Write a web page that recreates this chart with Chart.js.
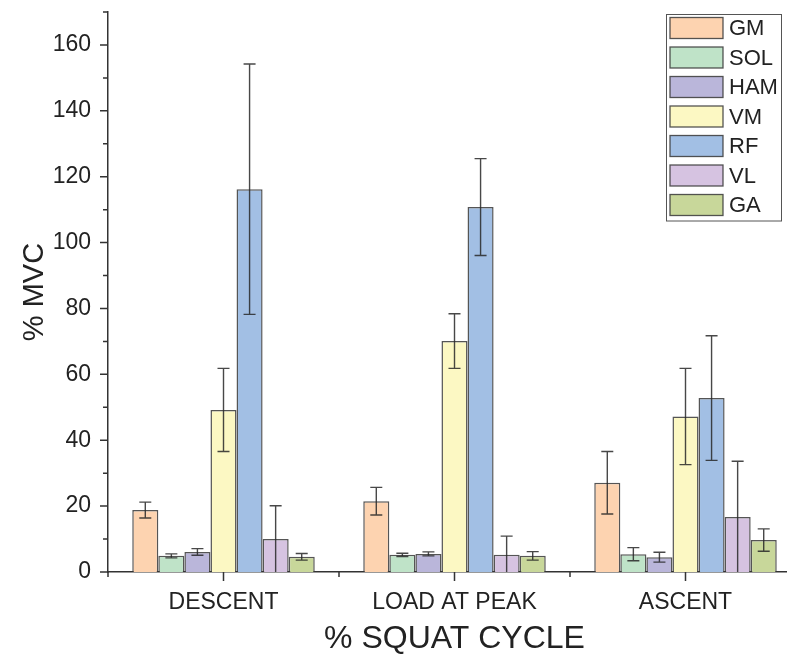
<!DOCTYPE html>
<html>
<head>
<meta charset="utf-8">
<script src="https://cdn.jsdelivr.net/npm/chart.js@4.4.1/dist/chart.umd.min.js"></script>
<style>
  html, body { margin: 0; padding: 0; background: #fff; overflow: hidden; }
  canvas { display: block; }
</style>
</head>
<body>
<canvas id="chart" width="805" height="658"></canvas>
<script>
// phases of the squat cycle
const phases = ['DESCENT', 'LOAD AT PEAK', 'ASCENT'];
const muscles = ['GM', 'SOL', 'HAM', 'VM', 'RF', 'VL', 'GA'];
const colors = ['#FDD3B0', '#BFE3C8', '#BAB6DA', '#FCF8C3', '#A2BFE4', '#D6C3E1', '#C8D79A'];

// mean %MVC per muscle, one value per phase
const gmMean = [18.8, 21.5, 27.1];
const solMean = [4.9, 5.2, 5.4];
const hamMean = [6.1, 5.5, 4.5];
const vmMean = [49.2, 70.1, 47.2];
const rfMean = [116.2, 110.8, 52.8];
const vlMean = [10.0, 5.2, 16.7];
const gaMean = [4.6, 4.9, 9.7];

// standard deviations (error bars)
const gmSd = [2.4, 4.2, 9.5];
const solSd = [0.6, 0.5, 2.0];
const hamSd = [1.0, 0.6, 1.5];
const vmSd = [12.6, 8.3, 14.6];
const rfSd = [38.0, 14.7, 18.9];
const vlSd = [10.1, 5.7, 16.9];
const gaSd = [1.0, 1.3, 3.4];

const yTicks = [0, 20, 40, 60, 80, 100, 120, 140, 160];

const means = [gmMean, solMean, hamMean, vmMean, rfMean, vlMean, gaMean];
const sds = [gmSd, solSd, hamSd, vmSd, rfSd, vlSd, gaSd];

const FONT = "'Liberation Sans', Arial, sans-serif";
const INK = '#222';

const datasets = muscles.map((m, i) => ({
  label: m,
  data: means[i],
  sd: sds[i],
  backgroundColor: colors[i],
  borderColor: 'rgba(55,55,55,0.85)',
  borderWidth: 1.5,
  barPercentage: 1.0,
  categoryPercentage: 0.79
}));

/** error bars drawn through the y scale */
const errorBars = {
  id: 'errorBars',
  afterDatasetsDraw(chart) {
    const ctx = chart.ctx;
    const y = chart.scales.y;
    ctx.save();
    ctx.strokeStyle = 'rgba(40,40,40,0.85)';
    ctx.lineWidth = 1.4;
    chart.data.datasets.forEach((ds, di) => {
      const meta = chart.getDatasetMeta(di);
      meta.data.forEach((bar, i) => {
        const v = ds.data[i];
        const e = ds.sd[i];
        const yt = y.getPixelForValue(v + e);
        const yb = Math.min(y.getPixelForValue(Math.max(v - e, 0)), y.bottom);
        const half = 6;
        ctx.beginPath();
        ctx.moveTo(bar.x, yt);
        ctx.lineTo(bar.x, yb);
        ctx.moveTo(bar.x - half, yt);
        ctx.lineTo(bar.x + half, yt);
        if (v - e > 0) {
          ctx.moveTo(bar.x - half, yb);
          ctx.lineTo(bar.x + half, yb);
        }
        ctx.stroke();
      });
    });
    ctx.restore();
  }
};

/** outward tick marks with minor ticks */
const tickMarks = {
  id: 'tickMarks',
  afterDraw(chart) {
    const ctx = chart.ctx;
    const x = chart.scales.x;
    const y = chart.scales.y;
    ctx.save();
    ctx.strokeStyle = '#333';
    ctx.lineWidth = 1.5;
    ctx.beginPath();
    for (let v = 0; v <= 170; v += 10) {
      const py = y.getPixelForValue(v);
      const len = v % 20 === 0 ? 8 : 5;
      ctx.moveTo(y.right, py);
      ctx.lineTo(y.right - len, py);
    }
    phases.forEach((p, i) => {
      const px = x.getPixelForValue(i);
      ctx.moveTo(px, x.top);
      ctx.lineTo(px, x.top + 9);
      const bx = x.getPixelForValue(i - 0.5);
      ctx.moveTo(bx, x.top);
      ctx.lineTo(bx, x.top + 5);
    });
    ctx.stroke();
    ctx.restore();
  }
};

/** framed legend inside the plot, top right */
const boxLegend = {
  id: 'boxLegend',
  afterDraw(chart) {
    const ctx = chart.ctx;
    const left = 666, top = 14, w = 115, rowH = 29.5;
    ctx.save();
    ctx.fillStyle = '#fff';
    ctx.fillRect(left, top, w, rowH * muscles.length + 0.5);
    ctx.strokeStyle = '#555';
    ctx.lineWidth = 1;
    ctx.strokeRect(left + 0.5, top + 0.5, w, rowH * muscles.length);
    ctx.font = '22px ' + FONT;
    ctx.textBaseline = 'middle';
    chart.data.datasets.forEach((ds, i) => {
      const cy = top + 14 + rowH * i;
      ctx.fillStyle = ds.backgroundColor;
      ctx.fillRect(left + 4, cy - 10.5, 53, 21);
      ctx.strokeStyle = 'rgba(55,55,55,0.85)';
      ctx.lineWidth = 1.3;
      ctx.strokeRect(left + 4, cy - 10.5, 53, 21);
      ctx.fillStyle = INK;
      ctx.fillText(ds.label, left + 63, cy + 1);
    });
    ctx.restore();
  }
};

new Chart(document.getElementById('chart'), {
  type: 'bar',
  data: { labels: phases, datasets: datasets },
  plugins: [errorBars, tickMarks, boxLegend],
  options: {
    responsive: false,
    animation: false,
    layout: { padding: { top: 12, right: 4, left: 0, bottom: 0 } },
    plugins: {
      legend: { display: false },
      tooltip: { enabled: false }
    },
    scales: {
      x: {
        grid: { display: false, drawTicks: false },
        border: { display: true, color: '#333', width: 1.5 },
        ticks: { color: INK, padding: 17, font: { family: FONT, size: 23 }, maxRotation: 0 },
        title: {
          display: true, text: '% SQUAT CYCLE', color: INK,
          font: { family: FONT, size: 32 }, padding: { top: 0, bottom: 0 }
        },
        afterFit(scale) { scale.height = 86; }
      },
      y: {
        min: 0,
        max: 170,
        afterBuildTicks(scale) { scale.ticks = yTicks.map(v => ({ value: v })); },
        grid: { display: false, drawTicks: false },
        border: { display: true, color: '#333', width: 1.5 },
        ticks: { color: INK, padding: 17, font: { family: FONT, size: 23 } },
        title: {
          display: true, text: '% MVC', color: INK,
          font: { family: FONT, size: 29 }, padding: { top: 18, bottom: 0 }
        },
        afterFit(scale) {
          scale.width = 108;
          scale.paddingTop = 0;
        }
      }
    }
  }
});
</script>
</body>
</html>
